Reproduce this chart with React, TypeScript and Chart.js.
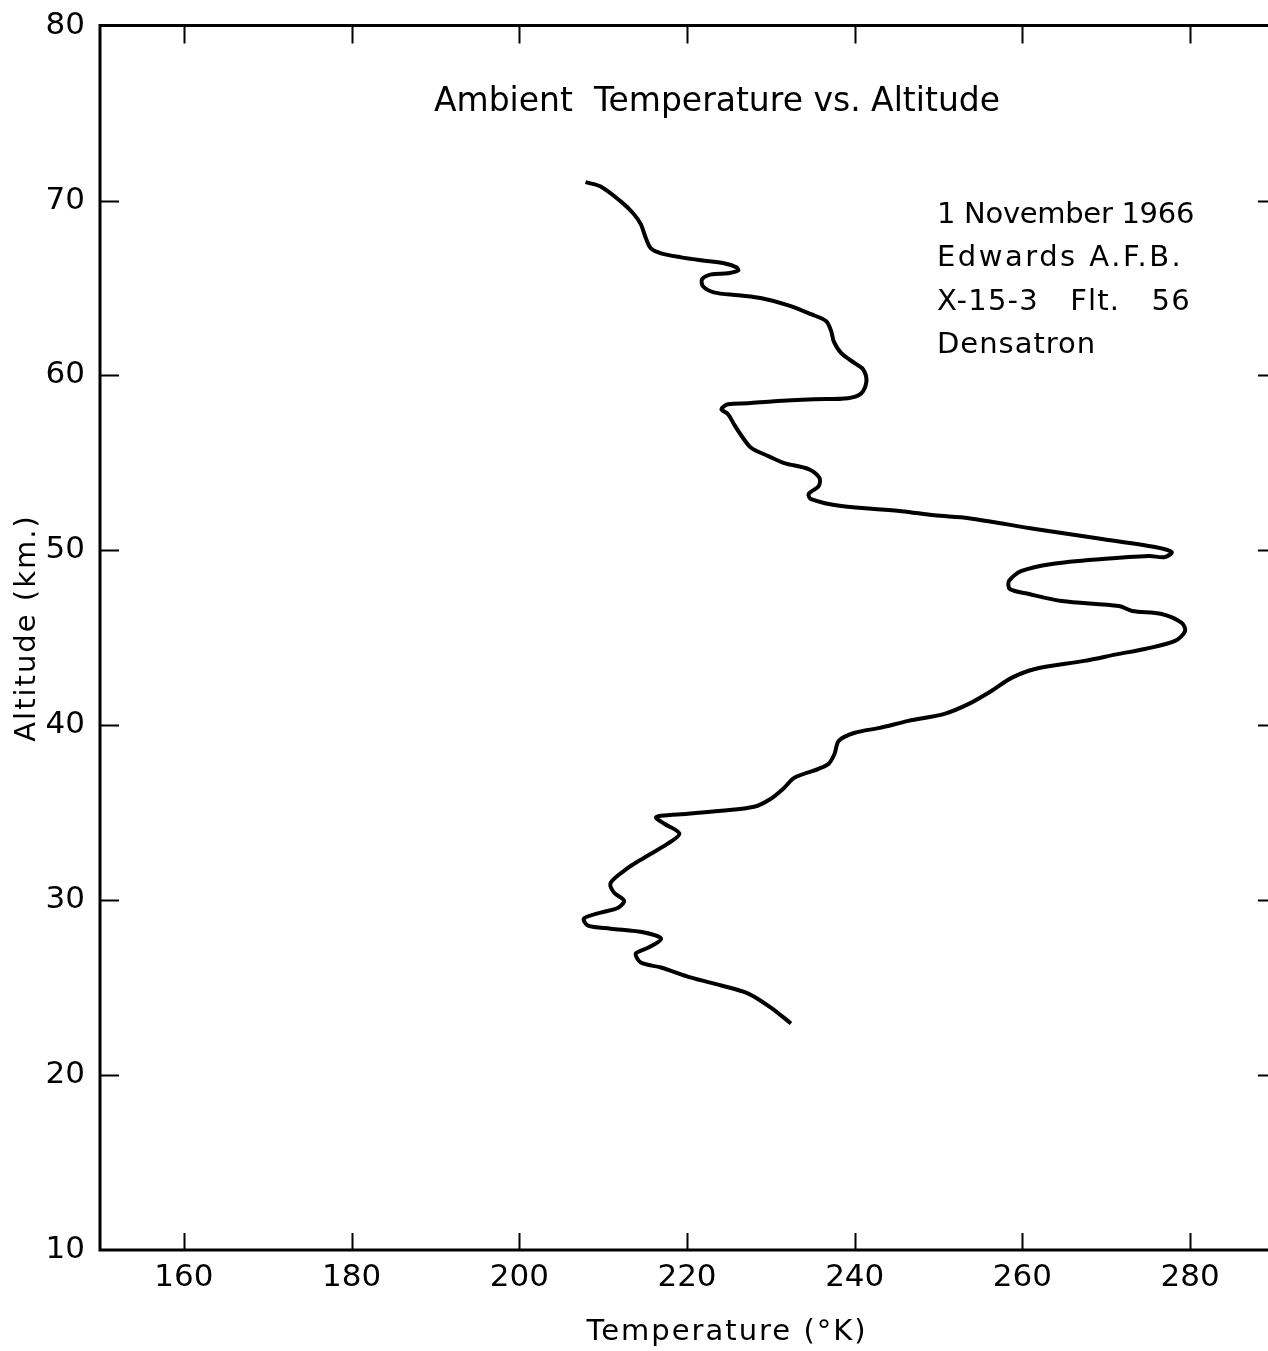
import { useEffect, useRef } from "react";
import { Chart, registerables } from "chart.js";

Chart.register(...registerables);

// Temperature (°K) profile, read along the trace from top (71 km) to bottom (23 km)
const temperatureK = [
  207.9, 209.7, 212.1, 213.6, 214.5, 215.1, 215.7, 216.9, 219.3, 221.7,
  224.4, 225.9, 226.1, 224.9, 222.9, 221.8, 221.9, 223.2, 226.1, 228.9,
  232.1, 234.8, 236.6, 237.2, 237.5, 238.4, 240.0, 241.0, 241.4, 240.8,
  239.2, 235.2, 230.4, 227.3, 224.9, 224.1, 224.9, 225.6, 226.7, 227.7,
  229.7, 231.6, 234.5, 235.8, 235.7, 234.5, 234.8, 238.4, 245.6, 249.5,
  253.6, 261.5, 269.5, 275.8, 277.8, 277.0, 275.1, 269.5, 263.5, 259.9,
  258.4, 258.5, 260.8, 264.7, 271.5, 273.1, 276.6, 279.0, 279.4, 278.2,
  274.6, 271.5, 267.4, 261.5, 258.7, 256.3, 253.6, 250.7, 246.4, 243.0,
  240.0, 238.1, 237.6, 236.9, 235.7, 232.8, 231.6, 230.0, 228.0, 224.1,
  220.1, 216.9, 216.3, 217.3, 219.1, 217.7, 214.9, 213.0, 210.9, 211.3,
  212.5, 211.8, 209.7, 207.7, 208.2, 210.9, 214.9, 216.9, 215.4, 213.9,
  214.5, 216.9, 220.5, 224.1, 227.3, 230.0, 232.4,
];
const altitudeKm = [
  71.05, 70.8, 69.95, 69.26, 68.64, 67.84, 67.26, 66.98, 66.75, 66.58,
  66.41, 66.18, 66.0, 65.84, 65.78, 65.5, 65.1, 64.75, 64.58, 64.41,
  64.01, 63.5, 63.1, 62.52, 61.95, 61.27, 60.7, 60.35, 59.67, 58.98,
  58.7, 58.64, 58.53, 58.41, 58.35, 58.07, 57.78, 57.21, 56.41, 55.84,
  55.39, 54.99, 54.64, 54.13, 53.67, 53.22, 52.93, 52.53, 52.24, 52.0,
  51.84, 51.22, 50.65, 50.19, 49.9, 49.62, 49.67, 49.5, 49.22, 48.82,
  48.25, 47.79, 47.5, 47.1, 46.82, 46.53, 46.36, 45.85, 45.39, 44.82,
  44.36, 44.08, 43.68, 43.22, 42.71, 41.96, 41.22, 40.65, 40.25, 39.85,
  39.57, 39.11, 38.37, 37.8, 37.51, 37.0, 36.43, 35.8, 35.34, 35.11,
  34.94, 34.83, 34.72, 34.37, 33.8, 33.23, 32.43, 31.86, 31.0, 30.43,
  29.97, 29.57, 29.29, 28.95, 28.54, 28.37, 28.15, 27.8, 27.29, 26.95,
  26.43, 26.15, 25.57, 25.12, 24.66, 23.86, 22.95,
];

const xTickValues = [160, 180, 200, 220, 240, 260, 280];
const yTickValues = [10, 20, 30, 40, 50, 60, 70, 80];

const chartTitle = "Ambient  Temperature vs. Altitude";
const annotationLines = ["1 November 1966", "Edwards A.F.B.", "X-15-3   Flt.   56", "Densatron"];
const xAxisTitle = "Temperature (°K)";
const yAxisTitle = "Altitude (km.)";

const FONT = "'DejaVu Sans', sans-serif";
const annotationSpacing = ["-0.3px", "2.5px", "1.2px", "1px"];

const framePlugin = {
  id: "framePlugin",
  afterDraw(chart: any) {
    const { ctx, chartArea } = chart;
    const { left, top, right, bottom } = chartArea;
    const xs = chart.scales.x;
    const ys = chart.scales.y;
    ctx.save();
    ctx.strokeStyle = "#000";
    ctx.lineCap = "square";
    ctx.lineWidth = 3;
    ctx.beginPath();
    ctx.moveTo(right, top);
    ctx.lineTo(left, top);
    ctx.lineTo(left, bottom);
    ctx.lineTo(right, bottom);
    ctx.lineTo(right, top);
    ctx.stroke();

    ctx.lineWidth = 2;
    ctx.lineCap = "butt";
    ctx.beginPath();
    xs.ticks.forEach((t: any) => {
      if (t.value <= xs.min || t.value >= xs.max) return;
      const px = Math.round(xs.getPixelForValue(t.value)) + 0.5;
      ctx.moveTo(px, top);
      ctx.lineTo(px, top + 18);
      ctx.moveTo(px, bottom);
      ctx.lineTo(px, bottom - 17);
    });
    ys.ticks.forEach((t: any) => {
      if (t.value <= ys.min || t.value >= ys.max) return;
      const py = Math.round(ys.getPixelForValue(t.value)) + 0.5;
      ctx.moveTo(left, py);
      ctx.lineTo(left + 19, py);
      ctx.moveTo(right, py);
      ctx.lineTo(right - 16, py);
    });
    ctx.stroke();

    ctx.fillStyle = "#000";
    ctx.textBaseline = "middle";
    // main title
    ctx.font = `33px ${FONT}`;
    ctx.textAlign = "center";
    (ctx as any).letterSpacing = "0px";
    ctx.fillText(chartTitle, left + 617, top + 77);

    // annotation
    ctx.font = `29px ${FONT}`;
    ctx.textAlign = "left";
    annotationLines.forEach((line, i) => {
      (ctx as any).letterSpacing = annotationSpacing[i];
      ctx.fillText(line, left + 837, top + 190 + i * 43.3);
    });

    // x axis title
    ctx.font = `29px ${FONT}`;
    ctx.textAlign = "center";
    (ctx as any).letterSpacing = "2px";
    ctx.fillText(xAxisTitle, 727, bottom + 82);

    // y axis title
    ctx.save();
    ctx.translate(27, 628);
    ctx.rotate(-Math.PI / 2);
    ctx.fillText(yAxisTitle, 0, 0);
    ctx.restore();
    ctx.restore();
  },
};

export default function App() {
  const canvasRef = useRef<HTMLCanvasElement | null>(null);

  useEffect(() => {
    if (!canvasRef.current) return;
    const points = temperatureK.map((t, i) => ({ x: t, y: altitudeKm[i] }));
    const chart = new Chart(canvasRef.current, {
      type: "scatter",
      data: {
        datasets: [
          {
            data: points,
            showLine: true,
            borderColor: "#000",
            borderWidth: 4,
            pointRadius: 0,
            tension: 0.3,
            fill: false,
          },
        ],
      },
      options: {
        animation: false,
        responsive: false,
        devicePixelRatio: 1,
        layout: { padding: { left: 0, top: 24, right: 16, bottom: 0 } },
        plugins: {
          legend: { display: false },
          tooltip: { enabled: false },
          title: { display: false },
        },
        scales: {
          x: {
            type: "linear",
            min: 150,
            max: 290,
            grid: { display: false },
            border: { display: false },
            afterBuildTicks: (scale: any) => {
              scale.ticks = xTickValues.map((v) => ({ value: v }));
            },
            afterFit: (scale: any) => {
              scale.height = 101;
            },
            ticks: {
              color: "#000",
              font: { family: FONT, size: 31 },
              padding: 1,
              maxRotation: 0,
              autoSkip: false,
            },
          },
          y: {
            type: "linear",
            min: 10,
            max: 80,
            grid: { display: false },
            border: { display: false },
            afterBuildTicks: (scale: any) => {
              scale.ticks = yTickValues.map((v) => ({ value: v }));
            },
            afterFit: (scale: any) => {
              scale.width = 100;
            },
            ticks: {
              color: "#000",
              font: { family: FONT, size: 31 },
              padding: 7,
              autoSkip: false,
            },
          },
        },
      },
      plugins: [framePlugin],
    });
    return () => chart.destroy();
  }, []);

  return (
    <div
      style={{
        position: "absolute",
        left: 0,
        top: 0,
        width: 1268,
        height: 1351,
        overflow: "hidden",
        background: "#fff",
      }}
    >
      <canvas ref={canvasRef} width={1290} height={1351} style={{ display: "block" }} />
    </div>
  );
}
